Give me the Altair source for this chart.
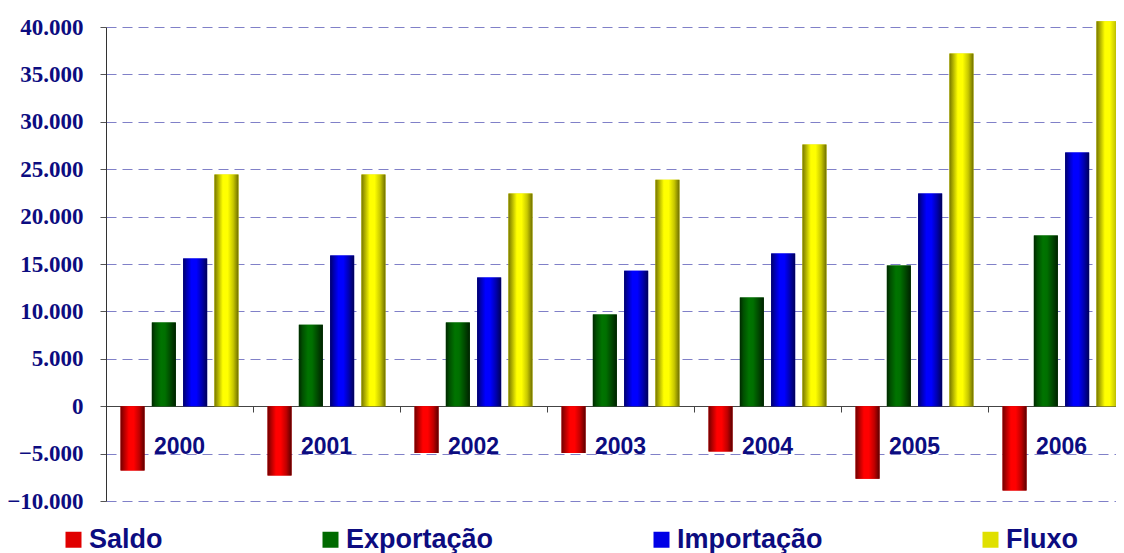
import altair as alt
import pandas as pd

years = ["2000", "2001", "2002", "2003", "2004", "2005", "2006"]
series = ["Saldo", "Exportação", "Importação", "Fluxo"]
saldo = [-6780, -7310, -4940, -4940, -4770, -7660, -8890]
exportacao = [8820, 8600, 8820, 9660, 11460, 14840, 18000]
importacao = [15580, 15890, 13570, 14300, 16100, 22440, 26770]
fluxo = [24450, 24450, 22440, 23900, 27600, 37200, 40600]
y_ticks = [-10000, -5000, 0, 5000, 10000, 15000, 20000, 25000, 30000, 35000, 40000]

NAVY = "#0c0c80"
SANS = "Liberation Sans, Arial, sans-serif"

rows = []
for s, vals in zip(series, [saldo, exportacao, importacao, fluxo]):
    for y, v in zip(years, vals):
        rows.append({"ano": y, "serie": s, "valor": v})
df = pd.DataFrame(rows)
df_years = pd.DataFrame({"ano": years, "valor": [-5000] * len(years)})

legend_colors = ["#e00000", "#006a00", "#0000e6", "#e0e000"]
gradients = {
    "Saldo": [("#700000", 0), ("#b00000", 0.15), ("#ff0000", 0.35), ("#ff0000", 0.55), ("#c00000", 0.78), ("#5a0000", 1)],
    "Exportação": [("#002800", 0), ("#005000", 0.15), ("#007400", 0.38), ("#007000", 0.55), ("#004800", 0.78), ("#002000", 1)],
    "Importação": [("#000068", 0), ("#0000b0", 0.15), ("#0000ff", 0.35), ("#0000ff", 0.55), ("#0000b0", 0.78), ("#000058", 1)],
    "Fluxo": [("#777700", 0), ("#b0b000", 0.15), ("#ffff00", 0.35), ("#ffff00", 0.55), ("#c8c800", 0.78), ("#6e6e00", 1)],
}

x_scale = alt.Scale(domain=years, paddingInner=0, paddingOuter=0, range=[0, 1029])
x_axis = alt.Axis(labels=False, title=None, grid=False, domain=True, domainColor="#444444",
                  domainWidth=1, ticks=True, tickBand="extent", tickSize=6, tickColor="#444444",
                  offset=-95)
y_scale = alt.Scale(domain=[-10000, 40000], nice=False, zero=False)
y_axis = alt.Axis(values=y_ticks, title=None, grid=True, gridColor="#8080c8", gridDash=[10, 6],
                  gridWidth=1.2, domain=True, domainColor="#333333", ticks=True, tickSize=6,
                  tickColor="#555555", labelFont="Liberation Serif", labelFontSize=23,
                  labelFontWeight="bold", labelColor=NAVY, labelPadding=17,
                  labelExpr="replace(format(datum.value, ','), ',', '.')")
xoff = alt.XOffset("serie:N", scale=alt.Scale(domain=series, paddingInner=0.233, paddingOuter=0.465))

base = alt.Chart(df).mark_bar().encode(
    x=alt.X("ano:N", scale=x_scale, axis=x_axis),
    xOffset=xoff,
    y=alt.Y("valor:Q", scale=y_scale, axis=y_axis),
    color=alt.Color("serie:N", scale=alt.Scale(domain=series, range=legend_colors),
                    legend=alt.Legend(orient="none", legendX=-46, legendY=499, direction="horizontal",
                                      title=None, symbolType="square", symbolSize=256,
                                      symbolStrokeWidth=0, labelFont=SANS, labelFontSize=27,
                                      labelFontWeight="bold", labelColor=NAVY, labelOffset=2,
                                      columnPadding=154, labelLimit=400, padding=0)),
)

layers = [base]
for s in series:
    grad = alt.Gradient(gradient="linear",
                        stops=[alt.GradientStop(color=c, offset=o) for c, o in gradients[s]],
                        x1=0, x2=1, y1=0, y2=0)
    layers.append(
        alt.Chart(df).transform_filter(alt.datum.serie == s).mark_bar(fill=grad, strokeWidth=0).encode(
            x=alt.X("ano:N", scale=x_scale, axis=x_axis),
            xOffset=xoff,
            y=alt.Y("valor:Q", scale=y_scale, axis=y_axis),
        )
    )

labels = alt.Chart(df_years).mark_text(font=SANS, fontSize=23, fontWeight="bold", color=NAVY,
                                       align="center", baseline="alphabetic").encode(
    x=alt.X("ano:N", scale=x_scale, axis=x_axis),
    y=alt.Y("valor:Q", scale=y_scale, axis=y_axis),
    text="ano:N",
)
layers.append(labels)

chart = alt.layer(*layers).properties(
    width=1010, height=474,
    autosize=alt.AutoSizeParams(type="none"),
    padding={"left": 98, "top": 19, "right": 0, "bottom": 52},
).configure_view(stroke=None)

chart.save("out.html", embed_options={"renderer": "svg", "actions": False})
